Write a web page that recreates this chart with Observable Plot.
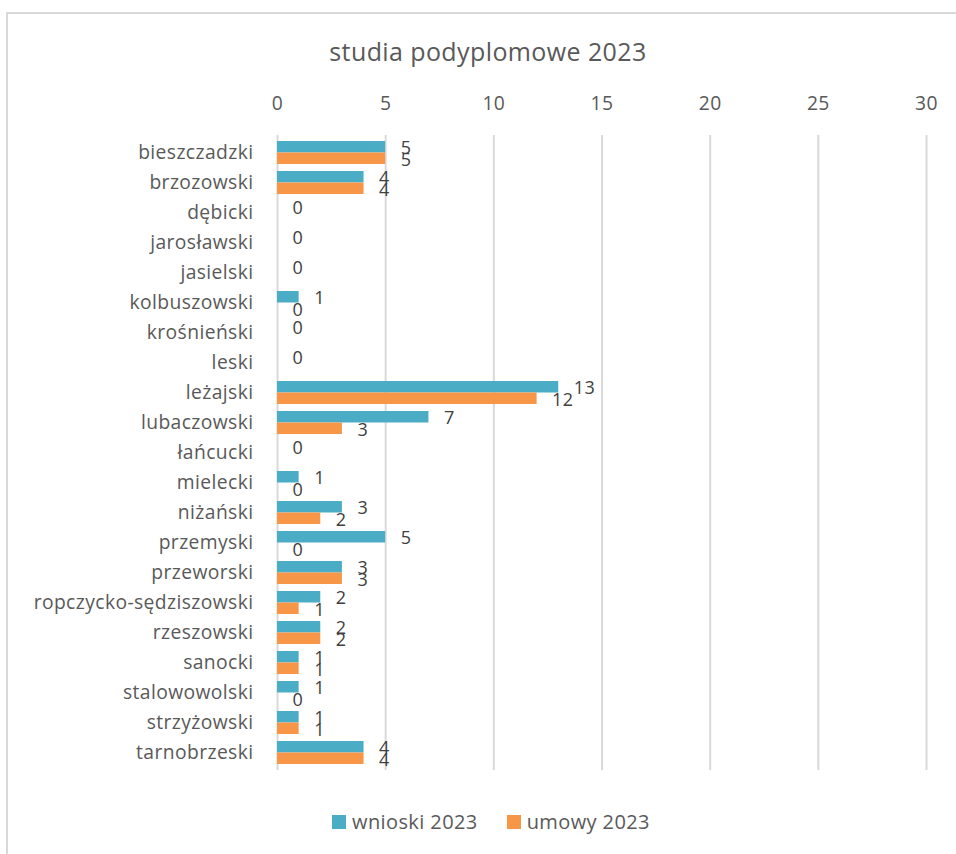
<!DOCTYPE html>
<html><head><meta charset="utf-8">
<script src="https://cdn.jsdelivr.net/npm/d3@7"></script>
<script src="https://cdn.jsdelivr.net/npm/@observablehq/plot@0.6"></script>
<style>
body{margin:0;background:#fff;font-family:"Open Sans",Lato,sans-serif;color:#595959;width:956px;height:854px;overflow:hidden;position:relative}
#frame{position:absolute;left:6px;top:12px;width:980px;height:900px;border:2px solid #d9d9d9;box-sizing:border-box}
#title{position:absolute;top:35px;left:0;width:976px;text-align:center;font-size:25px;letter-spacing:0.4px;line-height:32px}
#chart{position:absolute;left:0;top:80px}
#chart svg text{letter-spacing:0.4px}
#legend{position:absolute;left:332px;top:809px;display:flex;align-items:center;font-size:20px;letter-spacing:0.4px;line-height:26px}
#legend .sw{width:14px;height:14px;display:inline-block;margin-right:6px}
#legend .it{display:flex;align-items:center}
#legend .it + .it{margin-left:29px}
</style></head>
<body>
<div id="frame"></div>
<div id="title">studia podyplomowe 2023</div>
<div id="chart"></div>
<div id="legend"></div>
<script>
const categories = ["bieszczadzki","brzozowski","dębicki","jarosławski","jasielski","kolbuszowski","krośnieński","leski","leżajski","lubaczowski","łańcucki","mielecki","niżański","przemyski","przeworski","ropczycko-sędziszowski","rzeszowski","sanocki","stalowowolski","strzyżowski","tarnobrzeski"];
const wnioski = [5,4,0,0,0,1,0,0,13,7,0,1,3,5,3,2,2,1,1,1,4];
const umowy = [5,4,null,null,null,0,null,null,12,3,null,0,2,0,3,1,2,1,0,1,4];
const seriesNames = ["wnioski 2023","umowy 2023"];
const seriesColors = ["#4BACC6","#F79646"];
const xTicks = [0,5,10,15,20,25,30];

const rowsW = categories.map((c,i)=>({cat:c, series:seriesNames[0], v:wnioski[i]}));
const rowsU = categories.map((c,i)=>({cat:c, series:seriesNames[1], v:umowy[i]})).filter(d=>d.v!==null);

const chart = Plot.plot({
  width:956, height:700,
  marginTop:55, marginBottom:10, marginLeft:277, marginRight:30,
  style:{fontFamily:"'Open Sans', Lato, sans-serif", fontSize:"19.3px", color:"#595959", background:"transparent", overflow:"visible"},
  x:{domain:[0,30], ticks:xTicks, axis:"top", tickSize:0, tickPadding:26, label:null},
  y:{domain:categories, paddingInner:0.24, paddingOuter:0.12, tickSize:0, tickPadding:24, label:null},
  color:{domain:seriesNames, range:seriesColors},
  marks:[
    Plot.gridX(xTicks, {stroke:"#d9d9d9", strokeOpacity:1, strokeWidth:2}),
    Plot.barX(rowsW, {x:"v", y:"cat", fill:"series", insetBottom:11.5}),
    Plot.barX(rowsU, {x:"v", y:"cat", fill:"series", insetTop:11.5}),
    Plot.text(rowsW, {x:"v", y:"cat", text:d=>String(d.v), textAnchor:"start", dx:15, dy:-5, fill:"#404040", fontSize:18}),
    Plot.text(rowsU, {x:"v", y:"cat", text:d=>String(d.v), textAnchor:"start", dx:15, dy:7, fill:"#404040", fontSize:18})
  ]
});
document.getElementById("chart").appendChild(chart);

const leg = document.getElementById("legend");
seriesNames.forEach((n,i)=>{
  const it = document.createElement("div"); it.className="it";
  const sw = document.createElement("span"); sw.className="sw"; sw.style.background=seriesColors[i];
  const t = document.createElement("span"); t.textContent=n;
  it.appendChild(sw); it.appendChild(t); leg.appendChild(it);
});
</script>
</body></html>
